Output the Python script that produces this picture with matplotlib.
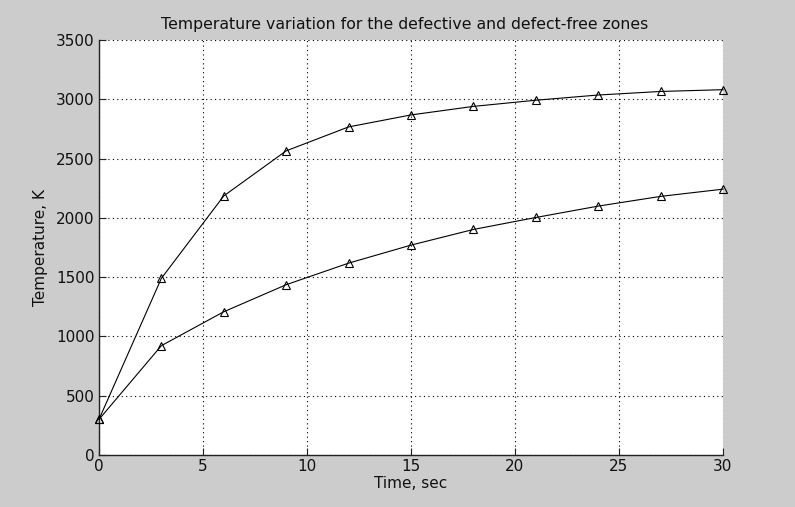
import matplotlib.pyplot as plt

# time points and temperatures for the two zones
time_s = [0, 3, 6, 9, 12, 15, 18, 21, 24, 27, 30]
temp_defect = [300, 1490, 2185, 2565, 2767, 2868, 2940, 2992, 3036, 3066, 3081]
temp_free = [300, 922, 1208, 1436, 1618, 1770, 1902, 2003, 2099, 2181, 2242]

x_ticks = [0, 5, 10, 15, 20, 25, 30]
y_ticks = [0, 500, 1000, 1500, 2000, 2500, 3000, 3500]

bg = '#cccccc'
plt.rcParams['font.family'] = 'DejaVu Sans'

fig = plt.figure(figsize=(7.95, 5.07), dpi=100, facecolor=bg)
ax = fig.add_axes([0.1245, 0.1026, 0.7849, 0.8185])
ax.set_facecolor('white')

for y in (temp_defect, temp_free):
    ax.plot(time_s, y, color='black', linewidth=0.8,
            marker='^', markersize=5.5, markerfacecolor='none',
            markeredgecolor='black', markeredgewidth=0.8, clip_on=False, zorder=3)

ax.set_xlim(0, 30)
ax.set_ylim(0, 3500)
ax.set_xticks(x_ticks)
ax.set_yticks(y_ticks)

ax.grid(True, color='black', linestyle=(0, (1, 3)), linewidth=0.8)
ax.set_axisbelow(True)

for side in ('top', 'right'):
    ax.spines[side].set_visible(False)
for side in ('left', 'bottom'):
    ax.spines[side].set_color('#222222')
    ax.spines[side].set_linewidth(1.0)

ax.tick_params(direction='in', length=5, width=0.8, colors='#222222',
               labelsize=11, labelcolor='#111111', pad=3)

ax.set_title('Temperature variation for the defective and defect-free zones',
             fontsize=11.3, pad=8, color='#111111', x=0.49)
ax.set_xlabel('Time, sec', fontsize=11, labelpad=1, color='#111111')
ax.set_ylabel('Temperature, K', fontsize=11, labelpad=6, color='#111111')

fig.savefig('out.png', dpi=100, facecolor=bg)
